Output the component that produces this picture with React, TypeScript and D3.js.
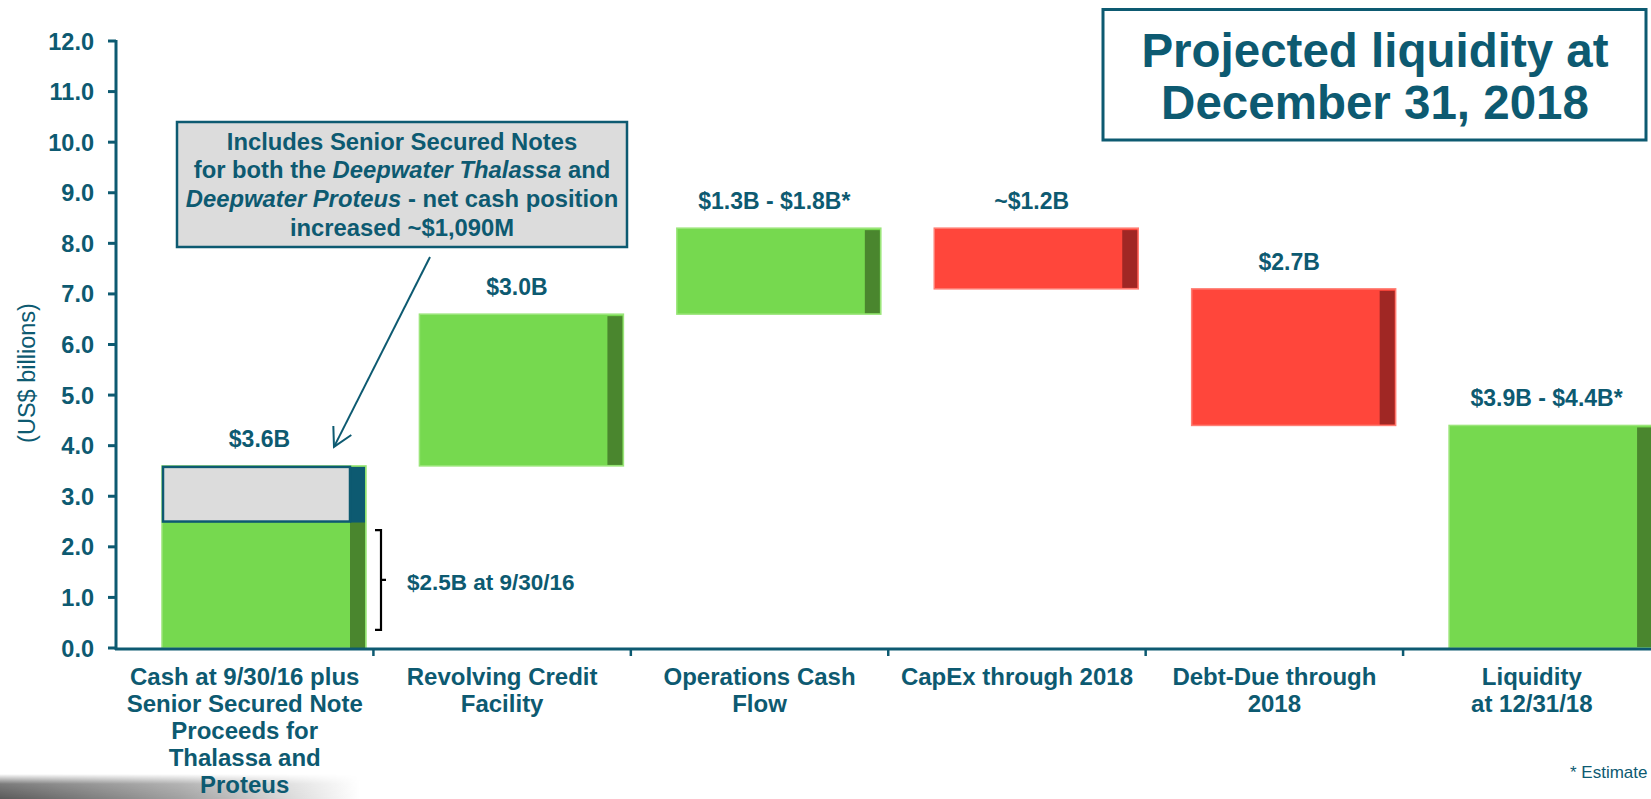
import React from "react";
import * as d3 from "d3";

const categoryLines: string[][] = [
  ["Cash at 9/30/16 plus", "Senior Secured Note", "Proceeds for", "Thalassa and", "Proteus"],
  ["Revolving Credit", "Facility"],
  ["Operations Cash", "Flow"],
  ["CapEx through 2018"],
  ["Debt-Due through", "2018"],
  ["Liquidity", "at 12/31/18"],
];
const categoryKeys = ["cash", "revolver", "ops", "capex", "debt", "liquidity"];
const barLow = [0, 3.6, 6.6, 7.1, 4.4, 0];
const barHigh = [3.6, 6.6, 8.3, 8.3, 7.1, 4.4];
const barKind = ["start", "increase", "increase", "decrease", "decrease", "total"];
const valueLabels = ["$3.6B", "$3.0B", "$1.3B - $1.8B*", "~$1.2B", "$2.7B", "$3.9B - $4.4B*"];
const cashAt93016 = 2.5;
const yTicks = [0, 1, 2, 3, 4, 5, 6, 7, 8, 9, 10, 11, 12];
const annotationLines: { text: string; italic?: boolean }[][] = [
  [{ text: "Includes Senior Secured Notes" }],
  [{ text: "for both the " }, { text: "Deepwater Thalassa", italic: true }, { text: " and" }],
  [{ text: "Deepwater Proteus", italic: true }, { text: " - net cash position" }],
  [{ text: "increased ~$1,090M" }],
];
const titleLines = ["Projected liquidity at", "December 31, 2018"];

const TEAL = "#0d5a71";
const GREEN = "#76d94f";
const GREEN_DARK = "#4a862e";
const GREEN_EDGE = "#9be57a";
const RED = "#ff463b";
const RED_DARK = "#a02724";
const RED_EDGE = "#ff7d73";
const GRAY = "#dcdcdc";
const FONT = "'Liberation Sans', Arial, Helvetica, sans-serif";

export default function App() {
  const W = 1651;
  const H = 799;
  const x = d3.scaleBand<string>().domain(categoryKeys).range([116, 1660.5]).padding(0);
  const y = d3.scaleLinear().domain([0, 12]).range([648, 41]);
  const barOffset = 46;
  const barW = 204;
  const stripW = 15;

  const bx = (i: number) => (x(categoryKeys[i]) as number) + barOffset;

  // arrow
  const arrowStart = { x: 430, y: 257 };
  const arrowTip = { x: bx(0) + 172, y: y(barHigh[0]) - 19 };
  const ang = Math.atan2(arrowTip.y - arrowStart.y, arrowTip.x - arrowStart.x);
  const headLen = 21;
  const wing = (s: number) => ({
    x: arrowTip.x - headLen * Math.cos(ang + s * 0.5),
    y: arrowTip.y - headLen * Math.sin(ang + s * 0.5),
  });
  const w1 = wing(1);
  const w2 = wing(-1);

  const bracketTop = y(2.33);
  const bracketBot = y(0.36);
  const bracketX = 381;
  const bracketMid = (bracketTop + bracketBot) / 2;

  return (
    <svg
      width={W}
      height={H}
      style={{ position: "absolute", left: 0, top: 0, background: "#fff" }}
      fontFamily={FONT}
    >
      <defs>
        <linearGradient id="shadeH" x1="0" x2="1" y1="0" y2="0">
          <stop offset="0" stopColor="#5a5a5a" />
          <stop offset="0.5" stopColor="#a0a0a0" />
          <stop offset="1" stopColor="#ffffff" />
        </linearGradient>
        <linearGradient id="shadeV" x1="0" x2="0" y1="0" y2="1">
          <stop offset="0" stopColor="#fff" stopOpacity="0" />
          <stop offset="0.4" stopColor="#fff" stopOpacity="0.8" />
          <stop offset="1" stopColor="#fff" stopOpacity="1" />
        </linearGradient>
        <mask id="shadeMask">
          <rect x={0} y={774} width={360} height={25} fill="url(#shadeV)" />
        </mask>
      </defs>

      {/* bottom-left page shadow */}
      <rect x={0} y={774} width={360} height={25} fill="url(#shadeH)" mask="url(#shadeMask)" />

      {/* y axis title */}
      <text
        transform={`translate(${27},${373}) rotate(-90)`}
        textAnchor="middle"
        dominantBaseline="central"
        fontSize={23.5}
        fill={TEAL}
      >
        (US$ billions)
      </text>

      {/* y axis */}
      <line x1={116} x2={116} y1={y(12) - 1} y2={y(0) + 2} stroke={TEAL} strokeWidth={3} />
      {yTicks.map((t) => (
        <g key={t}>
          <line x1={108} x2={116} y1={y(t)} y2={y(t)} stroke={TEAL} strokeWidth={3} />
          <text x={94} y={y(t) + 8.5} textAnchor="end" fontSize={23.5} fontWeight="bold" fill={TEAL}>
            {t.toFixed(1)}
          </text>
        </g>
      ))}

      {/* bars */}
      {categoryKeys.map((k, i) => {
        const x0 = bx(i);
        const top = y(barHigh[i]);
        const bot = y(barLow[i]);
        const isRed = barKind[i] === "decrease";
        const fill = isRed ? RED : GREEN;
        const dark = isRed ? RED_DARK : GREEN_DARK;
        const edge = isRed ? RED_EDGE : GREEN_EDGE;
        if (barKind[i] === "start") {
          const split = y(cashAt93016);
          return (
            <g key={k}>
              <rect x={x0} y={top} width={barW} height={bot - top} fill={GREEN} stroke={GREEN_EDGE} strokeWidth={1.5} />
              <rect x={x0 + barW - stripW - 1} y={split} width={stripW} height={bot - split} fill={GREEN_DARK} />
              <rect x={x0 + barW - stripW - 1} y={top + 1} width={stripW} height={split - top} fill={TEAL} />
              <rect
                x={x0 + 1}
                y={top + 1}
                width={barW - stripW - 2}
                height={split - top - 1}
                fill={GRAY}
                stroke={TEAL}
                strokeWidth={2.5}
              />
            </g>
          );
        }
        return (
          <g key={k}>
            <rect x={x0} y={top} width={barW} height={bot - top} fill={fill} stroke={edge} strokeWidth={1.5} />
            <rect x={x0 + barW - stripW - 1} y={top + 2} width={stripW} height={bot - top - 3} fill={dark} />
          </g>
        );
      })}

      {/* value labels */}
      {valueLabels.map((lab, i) => (
        <text
          key={lab}
          x={bx(i) + (barW - stripW) / 2 + 3}
          y={y(barHigh[i]) - 19}
          textAnchor="middle"
          fontSize={23}
          fontWeight="bold"
          fill={TEAL}
        >
          {lab}
        </text>
      ))}

      {/* x axis */}
      <line x1={115} x2={W} y1={649} y2={649} stroke={TEAL} strokeWidth={3} />
      {categoryKeys.slice(1).map((k) => (
        <line key={k} x1={x(k) as number} x2={x(k) as number} y1={649} y2={656} stroke={TEAL} strokeWidth={2.5} />
      ))}
      {categoryLines.map((lines, i) => (
        <text
          key={categoryKeys[i]}
          x={(x(categoryKeys[i]) as number) + x.bandwidth() / 2}
          y={685}
          textAnchor="middle"
          fontSize={24}
          fontWeight="bold"
          fill={TEAL}
        >
          {lines.map((ln, j) => (
            <tspan key={j} x={(x(categoryKeys[i]) as number) + x.bandwidth() / 2} dy={j === 0 ? 0 : 27}>
              {ln}
            </tspan>
          ))}
        </text>
      ))}

      {/* bracket */}
      <path
        d={`M${bracketX - 6},${bracketTop} H${bracketX} V${bracketBot} H${bracketX - 6} M${bracketX},${bracketMid} H${bracketX + 5}`}
        fill="none"
        stroke="#000"
        strokeWidth={2.2}
      />
      <text x={407} y={590} fontSize={22.5} fontWeight="bold" fill={TEAL}>
        $2.5B at 9/30/16
      </text>

      {/* annotation box */}
      <rect x={177} y={122} width={450} height={125} fill={GRAY} stroke={TEAL} strokeWidth={2.5} />
      {annotationLines.map((parts, j) => (
        <text key={j} x={402} y={149.5 + j * 28.8} textAnchor="middle" fontSize={23.8} fontWeight="bold" fill={TEAL}>
          {parts.map((p, k) => (
            <tspan key={k} fontStyle={p.italic ? "italic" : "normal"}>
              {p.text}
            </tspan>
          ))}
        </text>
      ))}

      {/* arrow */}
      <line x1={arrowStart.x} y1={arrowStart.y} x2={arrowTip.x} y2={arrowTip.y} stroke={TEAL} strokeWidth={2} />
      <path d={`M${w1.x},${w1.y} L${arrowTip.x},${arrowTip.y} L${w2.x},${w2.y}`} fill="none" stroke={TEAL} strokeWidth={2} />

      {/* title box */}
      <rect x={1103} y={9.5} width={543} height={130.5} fill="#fff" stroke={TEAL} strokeWidth={3} />
      {titleLines.map((t, j) => (
        <text key={t} x={1375} y={67 + j * 52} textAnchor="middle" fontSize={47.5} fontWeight="bold" fill={TEAL}>
          {t}
        </text>
      ))}

      {/* footnote */}
      <text x={1570} y={778} fontSize={17} fill={TEAL}>
        * Estimate
      </text>
    </svg>
  );
}
